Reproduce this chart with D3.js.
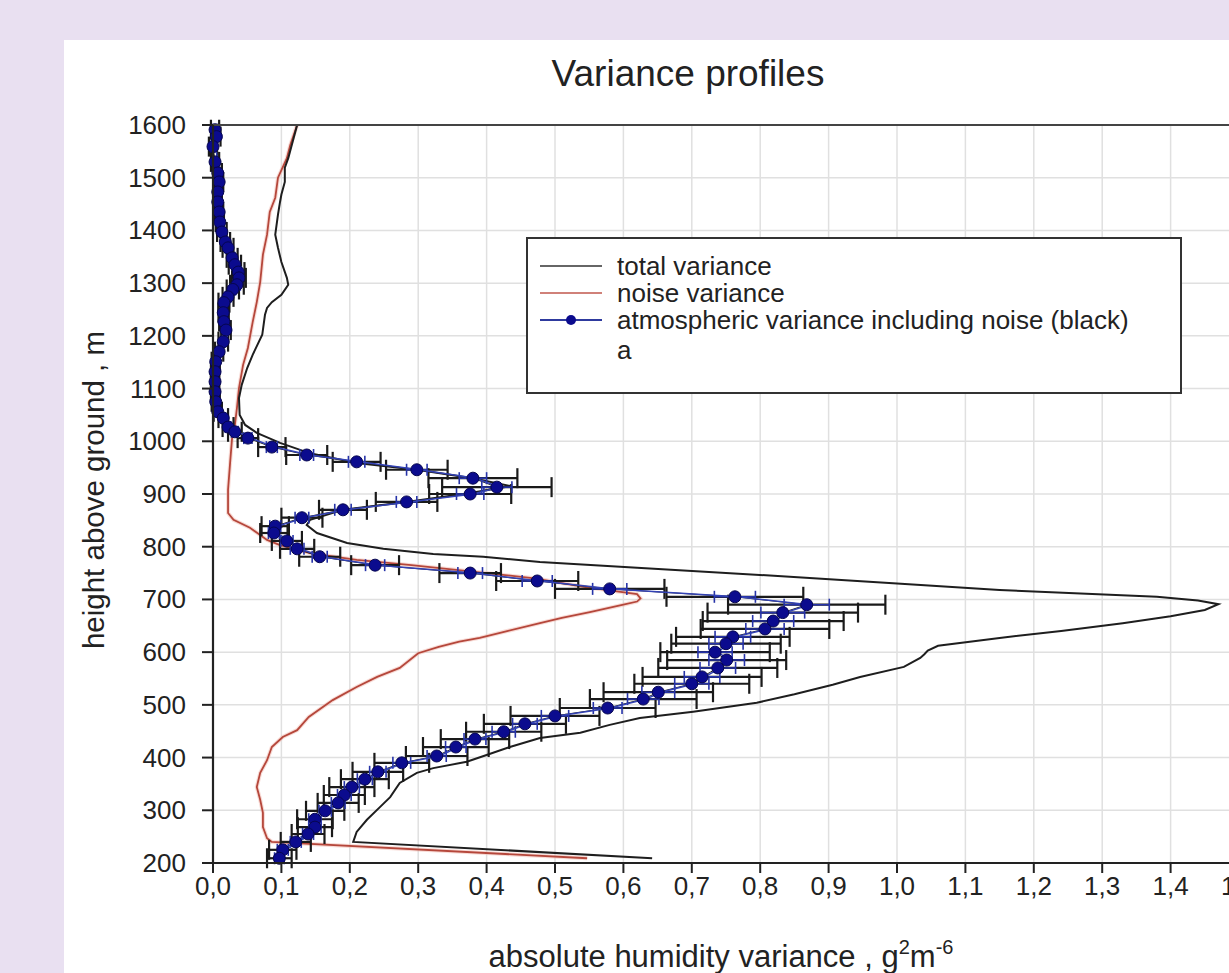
<!DOCTYPE html>
<html>
<head>
<meta charset="utf-8">
<script src="https://cdn.jsdelivr.net/npm/d3@7"></script>
<style>
  html, body { margin: 0; padding: 0; background: #e9e0f1; }
  svg { display: block; font-family: "Liberation Sans", Arial, sans-serif; }
</style>
</head>
<body>
<svg id="chart" width="1229" height="973"></svg>
<script>
// ---------------- DATA ----------------
const xTicks = [0, 0.1, 0.2, 0.3, 0.4, 0.5, 0.6, 0.7, 0.8, 0.9, 1.0, 1.1, 1.2, 1.3, 1.4, 1.5];
const yTicks = [200, 300, 400, 500, 600, 700, 800, 900, 1000, 1100, 1200, 1300, 1400, 1500, 1600];

// total variance (black line)
const totalHeights = [1600,1537,1519,1492,1468,1454,1430,1392,1367,1340,1310,1297,1278,1264,1253,1240,1202,1164,1139,1107,1082,1050,1031,1016,997,978,959,946,930,915,902,885,870,851,841,826,807,796,786,781,771,760,745,730,718,705,698,691,680,668,655,640,627,612,603,596,589,572,553,538,520,504,487,475,462,447,437,420,405,392,380,371,352,325,306,282,259,240,209];
const totalVar =     [0.123,0.110,0.105,0.105,0.100,0.098,0.095,0.091,0.095,0.100,0.108,0.110,0.100,0.086,0.079,0.076,0.072,0.058,0.050,0.042,0.038,0.039,0.047,0.064,0.098,0.140,0.210,0.298,0.380,0.435,0.376,0.283,0.190,0.142,0.137,0.152,0.196,0.249,0.322,0.395,0.478,0.620,0.820,1.000,1.150,1.380,1.440,1.470,1.450,1.400,1.330,1.240,1.150,1.060,1.045,1.040,1.034,1.010,0.946,0.906,0.850,0.795,0.702,0.624,0.580,0.537,0.478,0.434,0.400,0.371,0.322,0.298,0.273,0.259,0.244,0.225,0.210,0.205,0.642];

// noise variance (red line)
const noiseHeights = [1600,1562,1537,1500,1462,1435,1392,1354,1302,1264,1226,1177,1145,1101,1063,1031,1008,959,908,864,851,836,813,803,788,775,765,750,740,724,710,702,696,690,676,665,655,640,627,620,610,598,570,553,534,509,477,452,439,420,395,371,344,320,295,268,247,240,209];
const noiseVar =     [0.123,0.113,0.108,0.095,0.091,0.083,0.079,0.073,0.069,0.064,0.058,0.051,0.044,0.038,0.035,0.032,0.028,0.025,0.022,0.022,0.030,0.054,0.079,0.098,0.142,0.210,0.290,0.400,0.470,0.542,0.620,0.625,0.620,0.600,0.551,0.510,0.478,0.430,0.390,0.360,0.330,0.300,0.273,0.240,0.210,0.175,0.140,0.123,0.102,0.086,0.079,0.069,0.064,0.069,0.073,0.073,0.079,0.086,0.547];

// atmospheric variance including noise (blue dots) with error bars
const atmHeights = [1591,1578,1559,1530,1509,1492,1473,1454,1435,1416,1397,1378,1367,1348,1335,1321,1310,1297,1288,1274,1263,1244,1227,1211,1189,1170,1151,1132,1113,1094,1075,1056,1044,1027,1018,1006,
                    989,974,961,946,930,913,900,885,870,855,839,826,811,796,781,765,750,735,720,705,690,675,659,644,629,616,600,585,570,553,540,524,511,494,479,464,449,435,420,403,390,373,359,344,329,314,299,283,268,255,240,225,209];
const atmVar =     [0.003,0.005,0.000,0.003,0.007,0.009,0.007,0.007,0.009,0.010,0.013,0.018,0.022,0.028,0.032,0.037,0.038,0.035,0.029,0.022,0.016,0.015,0.016,0.019,0.015,0.009,0.004,0.003,0.003,0.003,0.004,0.007,0.015,0.022,0.032,0.051,
                    0.086,0.137,0.210,0.298,0.380,0.415,0.376,0.283,0.190,0.130,0.091,0.089,0.108,0.123,0.156,0.237,0.376,0.474,0.580,0.763,0.868,0.833,0.819,0.807,0.760,0.750,0.734,0.751,0.738,0.715,0.700,0.651,0.629,0.577,0.500,0.456,0.425,0.383,0.355,0.327,0.276,0.241,0.222,0.203,0.192,0.183,0.164,0.149,0.149,0.139,0.121,0.102,0.097];
const atmErr =     [0.006,0.006,0.006,0.006,0.006,0.006,0.006,0.006,0.006,0.006,0.007,0.007,0.008,0.008,0.009,0.009,0.010,0.010,0.009,0.008,0.008,0.007,0.007,0.007,0.007,0.006,0.006,0.006,0.006,0.006,0.006,0.006,0.007,0.008,0.010,0.015,
                    0.020,0.030,0.035,0.045,0.065,0.080,0.060,0.045,0.035,0.030,0.020,0.020,0.022,0.025,0.030,0.035,0.045,0.060,0.080,0.100,0.115,0.110,0.103,0.094,0.083,0.080,0.080,0.087,0.087,0.087,0.084,0.080,0.078,0.070,0.065,0.060,0.055,0.050,0.048,0.045,0.040,0.037,0.035,0.033,0.030,0.030,0.028,0.026,0.025,0.024,0.022,0.020,0.018];
const atmErrNoise = [0.003,0.003,0.003,0.003,0.003,0.003,0.003,0.003,0.003,0.003,0.003,0.003,0.004,0.004,0.004,0.004,0.005,0.005,0.004,0.004,0.004,0.003,0.003,0.003,0.003,0.003,0.003,0.003,0.003,0.003,0.003,0.003,0.003,0.004,0.005,0.006,
                    0.008,0.010,0.012,0.015,0.020,0.022,0.020,0.015,0.012,0.010,0.008,0.008,0.009,0.010,0.011,0.014,0.018,0.022,0.025,0.030,0.033,0.032,0.030,0.028,0.026,0.025,0.025,0.026,0.026,0.026,0.025,0.024,0.023,0.021,0.020,0.018,0.017,0.016,0.015,0.014,0.013,0.012,0.011,0.011,0.010,0.010,0.009,0.009,0.009,0.008,0.008,0.008,0.007];

const legendLabels = ["total variance", "noise variance", "atmospheric variance including noise (black)", "a"];

// ---------------- LAYOUT ----------------
const W = 1229, H = 973;
const plot = { left: 213, top: 125, bottom: 863 };
const x = d3.scaleLinear().domain([0, 1.6]).range([plot.left, plot.left + 684 * 1.6]);
const y = d3.scaleLinear().domain([200, 1600]).range([plot.bottom, plot.top]);

const svg = d3.select("#chart");
svg.append("rect").attr("width", W).attr("height", H).attr("fill", "#e9e0f1");
svg.append("rect").attr("x", 64).attr("y", 40).attr("width", W - 64).attr("height", H - 40).attr("fill", "#ffffff");

const comma = v => d3.format(".1f")(v).replace(".", ",");

// grid
const grid = svg.append("g");
grid.selectAll("line.gx").data(xTicks.slice(1)).join("line")
  .attr("x1", d => x(d)).attr("x2", d => x(d))
  .attr("y1", plot.top).attr("y2", plot.bottom)
  .attr("stroke", "#e0e0e0").attr("stroke-width", 1.5);
grid.selectAll("line.gy").data(yTicks.slice(1)).join("line")
  .attr("x1", plot.left).attr("x2", W)
  .attr("y1", d => y(d)).attr("y2", d => y(d))
  .attr("stroke", "#e0e0e0").attr("stroke-width", 1.5);

// clip
svg.append("clipPath").attr("id", "clip").append("rect")
  .attr("x", plot.left - 10).attr("y", plot.top - 10).attr("width", W).attr("height", plot.bottom - plot.top + 20);
const g = svg.append("g").attr("clip-path", "url(#clip)");

const line = d3.line().x(d => x(d[0])).y(d => y(d[1]));

// noise
g.append("path").datum(noiseVar.map((v, i) => [v, noiseHeights[i]]))
  .attr("d", line).attr("fill", "none").attr("stroke", "#f2b7ae").attr("stroke-width", 4).attr("opacity", 0.5);
g.append("path").datum(noiseVar.map((v, i) => [v, noiseHeights[i]]))
  .attr("d", line).attr("fill", "none").attr("stroke", "#b5473b").attr("stroke-width", 1.8);

// total
g.append("path").datum(totalVar.map((v, i) => [v, totalHeights[i]]))
  .attr("d", line).attr("fill", "none").attr("stroke", "#1e1e1e").attr("stroke-width", 2);

// atmospheric data
const atm = atmVar.map((v, i) => ({ v, h: atmHeights[i], e: atmErr[i], en: atmErrNoise[i] }));

// black error bars
const eb = g.append("g").attr("stroke", "#1a1a1a").attr("stroke-width", 2.2);
eb.selectAll("line.bar").data(atm).join("line")
  .attr("x1", d => x(d.v - d.e)).attr("x2", d => x(d.v + d.e))
  .attr("y1", d => y(d.h)).attr("y2", d => y(d.h));
eb.selectAll("line.capl").data(atm).join("line")
  .attr("x1", d => x(d.v - d.e)).attr("x2", d => x(d.v - d.e))
  .attr("y1", d => y(d.h) - 10).attr("y2", d => y(d.h) + 10);
eb.selectAll("line.capr").data(atm).join("line")
  .attr("x1", d => x(d.v + d.e)).attr("x2", d => x(d.v + d.e))
  .attr("y1", d => y(d.h) - 10).attr("y2", d => y(d.h) + 10);

// black accompanying line
g.append("path").datum(atm.map(d => [d.v, d.h]))
  .attr("d", line).attr("fill", "none").attr("stroke", "#222").attr("stroke-width", 1);

// blue error bars
const bb = g.append("g").attr("stroke", "#2633a8").attr("stroke-width", 1.6);
bb.selectAll("line.bar").data(atm).join("line")
  .attr("x1", d => x(d.v - d.en)).attr("x2", d => x(d.v + d.en))
  .attr("y1", d => y(d.h)).attr("y2", d => y(d.h));
bb.selectAll("line.capl").data(atm).join("line")
  .attr("x1", d => x(d.v - d.en)).attr("x2", d => x(d.v - d.en))
  .attr("y1", d => y(d.h) - 6).attr("y2", d => y(d.h) + 6);
bb.selectAll("line.capr").data(atm).join("line")
  .attr("x1", d => x(d.v + d.en)).attr("x2", d => x(d.v + d.en))
  .attr("y1", d => y(d.h) - 6).attr("y2", d => y(d.h) + 6);

// blue line
g.append("path").datum(atm.map(d => [d.v + 0.004, d.h]))
  .attr("d", line).attr("fill", "none").attr("stroke", "#3342b5").attr("stroke-width", 1.5);

// dots
g.selectAll("circle.dot").data(atm).join("circle")
  .attr("cx", d => x(d.v)).attr("cy", d => y(d.h)).attr("r", 6)
  .attr("fill", "#0b0b8e").attr("stroke", "#06064f").attr("stroke-width", 1);

// axes lines
svg.append("line").attr("x1", plot.left - 11).attr("x2", W).attr("y1", plot.top).attr("y2", plot.top)
  .attr("stroke", "#444").attr("stroke-width", 2.2);
svg.append("line").attr("x1", plot.left).attr("x2", plot.left).attr("y1", plot.top).attr("y2", plot.bottom)
  .attr("stroke", "#222").attr("stroke-width", 2.2);
svg.append("line").attr("x1", plot.left).attr("x2", W).attr("y1", plot.bottom).attr("y2", plot.bottom)
  .attr("stroke", "#222").attr("stroke-width", 2.2);

// ticks
const tk = svg.append("g").attr("stroke", "#222").attr("stroke-width", 2);
tk.selectAll("line.ty").data(yTicks).join("line")
  .attr("x1", plot.left - 11).attr("x2", plot.left).attr("y1", d => y(d)).attr("y2", d => y(d));
tk.selectAll("line.tx").data(xTicks).join("line")
  .attr("x1", d => x(d)).attr("x2", d => x(d)).attr("y1", plot.bottom).attr("y2", plot.bottom + 10);

// tick labels
svg.append("g").selectAll("text").data(yTicks).join("text")
  .attr("x", 186).attr("y", d => y(d) + 9).attr("text-anchor", "end")
  .attr("font-size", 26).attr("fill", "#222").text(d => d);
svg.append("g").selectAll("text").data(xTicks).join("text")
  .attr("x", d => x(d)).attr("y", 895).attr("text-anchor", "middle")
  .attr("font-size", 26).attr("fill", "#222").text(d => comma(d));

// title
svg.append("text").attr("x", 688).attr("y", 86).attr("text-anchor", "middle")
  .attr("font-size", 37).attr("fill", "#222").text("Variance profiles");

// y label
svg.append("text").attr("transform", "translate(104,490) rotate(-90)").attr("text-anchor", "middle")
  .attr("font-size", 29.5).attr("fill", "#222").text("height above ground , m");

// x label
const xl = svg.append("text").attr("x", 721).attr("y", 967).attr("text-anchor", "middle")
  .attr("font-size", 31).attr("fill", "#222");
xl.append("tspan").text("absolute humidity variance , g");
xl.append("tspan").attr("dy", -13).attr("font-size", 20).text("2");
xl.append("tspan").attr("dy", 13).text("m");
xl.append("tspan").attr("dy", -13).attr("font-size", 20).text("-6");

// legend
const lg = svg.append("g");
lg.append("rect").attr("x", 527).attr("y", 238).attr("width", 654).attr("height", 155)
  .attr("fill", "#fff").attr("stroke", "#333").attr("stroke-width", 2);
const rowY = [266, 293, 320, 350];
lg.append("line").attr("x1", 540).attr("x2", 602).attr("y1", rowY[0]).attr("y2", rowY[0]).attr("stroke", "#333").attr("stroke-width", 1.6);
lg.append("line").attr("x1", 540).attr("x2", 602).attr("y1", rowY[1]).attr("y2", rowY[1]).attr("stroke", "#c0574c").attr("stroke-width", 1.6);
lg.append("line").attr("x1", 540).attr("x2", 602).attr("y1", rowY[2]).attr("y2", rowY[2]).attr("stroke", "#2e3a9e").attr("stroke-width", 2);
lg.append("circle").attr("cx", 571).attr("cy", rowY[2]).attr("r", 5).attr("fill", "#0b0b8e");
lg.selectAll("text").data(legendLabels).join("text")
  .attr("x", 617).attr("y", (d, i) => rowY[i] + 9).attr("font-size", 26).attr("fill", "#222").text(d => d);
</script>
</body>
</html>
